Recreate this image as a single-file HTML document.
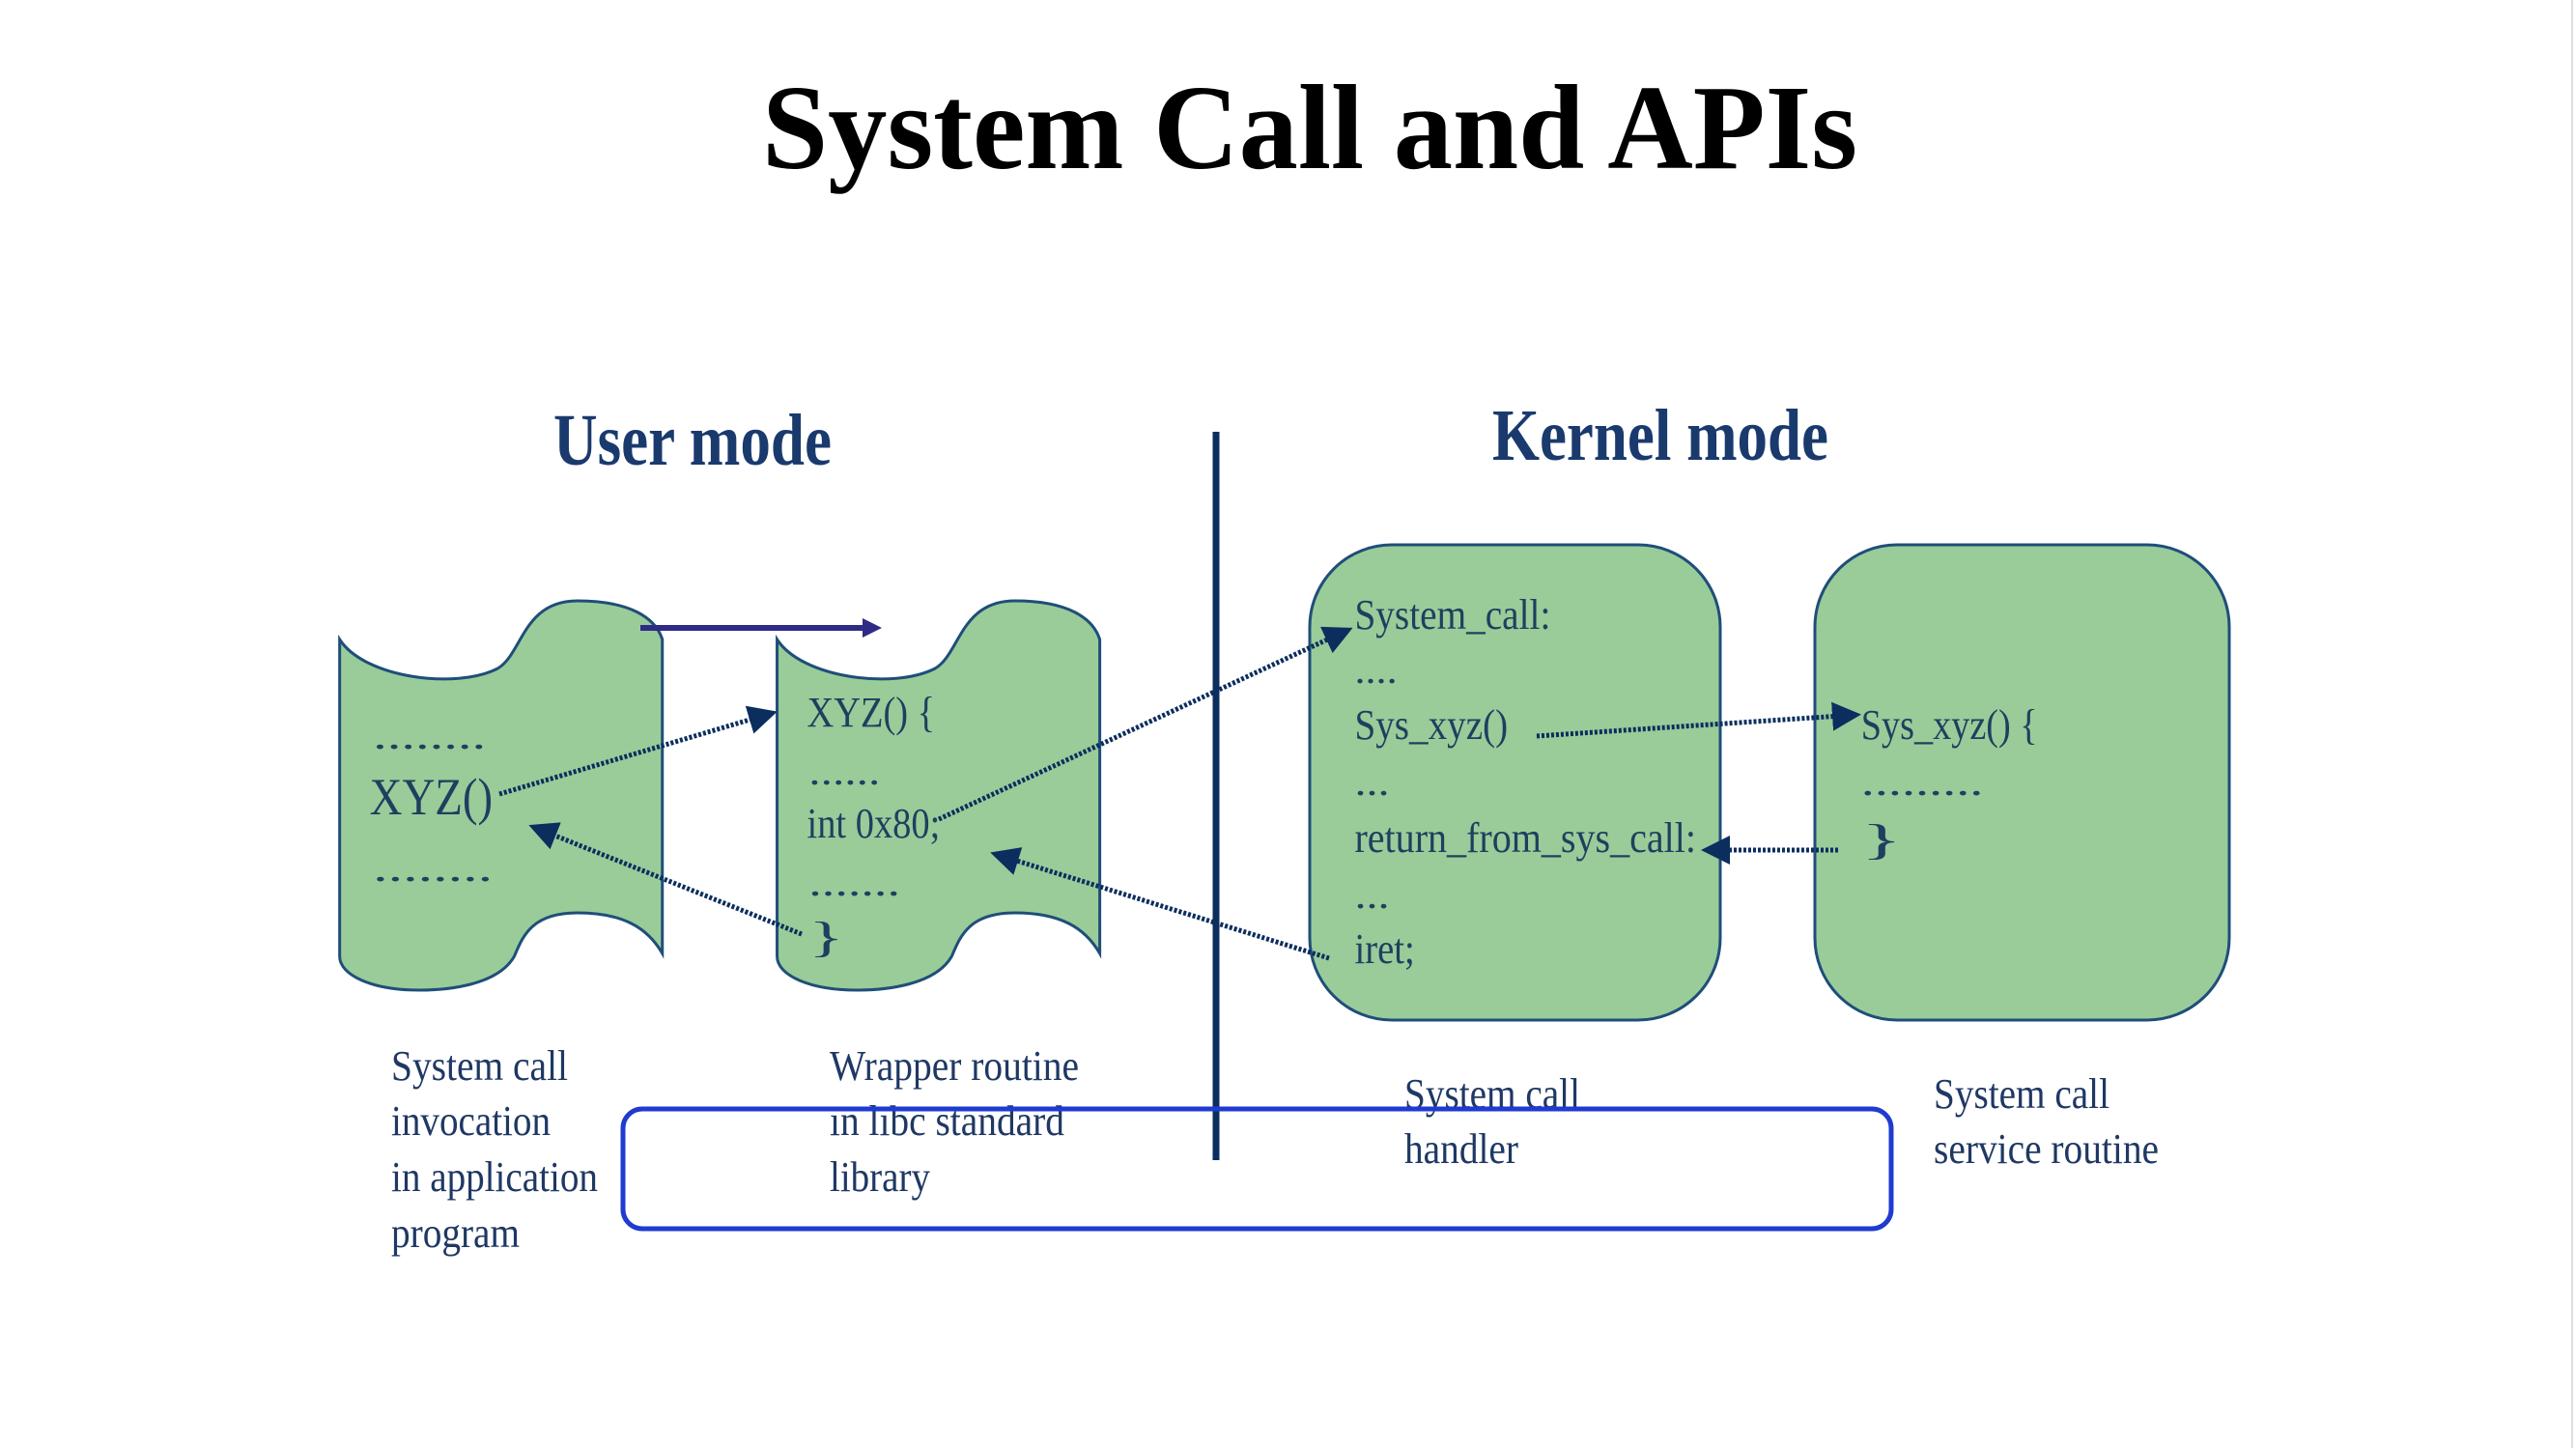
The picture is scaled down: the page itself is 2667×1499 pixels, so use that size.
<!DOCTYPE html>
<html><head><meta charset="utf-8"><style>html,body{margin:0;padding:0;background:#fff}svg{display:block}</style></head>
<body>
<svg xmlns="http://www.w3.org/2000/svg" width="2667" height="1499" viewBox="0 0 2667 1499">
<defs>
<marker id="ah" markerWidth="6" markerHeight="6" refX="5" refY="3" orient="auto" markerUnits="strokeWidth">
<path d="M0,0 L6,3 L0,6 z" fill="#0b2e5e"/></marker>
</defs>
<rect width="2667" height="1499" fill="#fff"/>
<line x1="2663" y1="0" x2="2663" y2="1499" stroke="#ddd" stroke-width="2"/>
<g font-family="Liberation Serif, serif">
<text x="1356" y="174" font-size="125" font-weight="bold" text-anchor="middle" textLength="1134" lengthAdjust="spacingAndGlyphs" fill="#000">System Call and APIs</text>
<text x="573" y="481" font-size="76" font-weight="bold" textLength="288" lengthAdjust="spacingAndGlyphs" fill="#1a3a6e">User mode</text>
<text x="1545" y="476" font-size="76" font-weight="bold" textLength="348" lengthAdjust="spacingAndGlyphs" fill="#1a3a6e">Kernel mode</text>
</g>
<line x1="1259" y1="447" x2="1259" y2="1201" stroke="#0b2e5e" stroke-width="7"/>
<g transform="translate(300,0) scale(1.722,1) translate(-300,0)">
<g fill="#99cc99" stroke="#1f4e79" stroke-width="3">
<path vector-effect="non-scaling-stroke" d="M330,662 C345,702 400,714 425,692 C440,677 440,622 473,622 C505,622 520,640 524,662 L524,987 C515,960 500,945 473,945 C445,945 440,970 435,990 C425,1020 395,1025 378,1025 C350,1025 330,1010 330,990 Z"/>
<path vector-effect="non-scaling-stroke" d="M593,662 C608,702 663,714 688,692 C703,677 703,622 736,622 C768,622 783,640 787,662 L787,987 C778,960 763,945 736,945 C708,945 703,970 698,990 C688,1020 658,1025 641,1025 C613,1025 593,1010 593,990 Z"/>
</g>
<g font-family="Liberation Serif, serif" fill="#1f3f5f">
<text x="350" y="775" font-size="40" textLength="68" lengthAdjust="spacingAndGlyphs">........</text>
<text x="348" y="843" font-size="54" textLength="74" lengthAdjust="spacingAndGlyphs">XYZ()</text>
<text x="350" y="912" font-size="40" textLength="72" lengthAdjust="spacingAndGlyphs">........</text>
<text x="611" y="752" font-size="44" textLength="77" lengthAdjust="spacingAndGlyphs">XYZ() {</text>
<text x="612" y="812" font-size="40" textLength="43" lengthAdjust="spacingAndGlyphs">......</text>
<text x="611" y="867" font-size="44" textLength="80" lengthAdjust="spacingAndGlyphs">int 0x80;</text>
<text x="612" y="927" font-size="40" textLength="55" lengthAdjust="spacingAndGlyphs">.......</text>
<text x="612" y="985" font-size="44">}</text>
</g>
</g>
<line x1="663" y1="650" x2="895" y2="650" stroke="#2e2a85" stroke-width="6"/>
<path d="M893,640 L913,650 L893,660 Z" fill="#2e2a85"/>
<g fill="#99cc99" stroke="#1f4e79" stroke-width="3">
<rect x="1356" y="564" width="425" height="492" rx="85" ry="85"/>
<rect x="1879" y="564" width="429" height="492" rx="85" ry="85"/>
</g>
<g transform="translate(1300,0) scale(2.009,1) translate(-1300,0)" font-family="Liberation Serif, serif" fill="#1f3f5f">
<text x="1351" y="651" font-size="44" textLength="101" lengthAdjust="spacingAndGlyphs">System_call:</text>
<text x="1351" y="707" font-size="40" textLength="22" lengthAdjust="spacingAndGlyphs">....</text>
<text x="1351" y="765" font-size="44" textLength="79" lengthAdjust="spacingAndGlyphs">Sys_xyz()</text>
<text x="1351" y="823" font-size="40" textLength="18" lengthAdjust="spacingAndGlyphs">...</text>
<text x="1351" y="882" font-size="44" textLength="176" lengthAdjust="spacingAndGlyphs">return_from_sys_call:</text>
<text x="1351" y="940" font-size="40" textLength="18" lengthAdjust="spacingAndGlyphs">...</text>
<text x="1351" y="997" font-size="44" textLength="31" lengthAdjust="spacingAndGlyphs">iret;</text>
<text x="1612" y="765" font-size="44" textLength="91" lengthAdjust="spacingAndGlyphs">Sys_xyz() {</text>
<text x="1612" y="823" font-size="40" textLength="63" lengthAdjust="spacingAndGlyphs">.........</text>
<text x="1612" y="884" font-size="44">}</text>
</g>
<g stroke="#0b2e5e" stroke-width="5" stroke-dasharray="3 2" fill="none" marker-end="url(#ah)">
<line x1="517" y1="822" x2="800" y2="738"/>
<line x1="830" y1="967" x2="552" y2="856"/>
<line x1="972" y1="848" x2="1396" y2="652"/>
<line x1="1376" y1="992" x2="1030" y2="884"/>
<line x1="1591" y1="762" x2="1922" y2="740"/>
<line x1="1903" y1="880" x2="1766" y2="880"/>
</g>
<g font-family="Liberation Serif, serif" font-size="44" fill="#1f3864">
<text x="405" y="1118" textLength="183" lengthAdjust="spacingAndGlyphs">System call</text>
<text x="405" y="1175" textLength="165" lengthAdjust="spacingAndGlyphs">invocation</text>
<text x="405" y="1233" textLength="214" lengthAdjust="spacingAndGlyphs">in application</text>
<text x="405" y="1291" textLength="133" lengthAdjust="spacingAndGlyphs">program</text>
<text x="859" y="1118" textLength="258" lengthAdjust="spacingAndGlyphs">Wrapper routine</text>
<text x="859" y="1175" textLength="243" lengthAdjust="spacingAndGlyphs">in libc standard</text>
<text x="859" y="1233" textLength="104" lengthAdjust="spacingAndGlyphs">library</text>
<text x="1454" y="1147" textLength="182" lengthAdjust="spacingAndGlyphs">System call</text>
<text x="1454" y="1204" textLength="118" lengthAdjust="spacingAndGlyphs">handler</text>
<text x="2002" y="1147" textLength="182" lengthAdjust="spacingAndGlyphs">System call</text>
<text x="2002" y="1204" textLength="233" lengthAdjust="spacingAndGlyphs">service routine</text>
</g>
<rect x="645" y="1148" width="1313" height="124" rx="20" fill="none" stroke="#1f3bd0" stroke-width="5"/>
</svg>
</body></html>
